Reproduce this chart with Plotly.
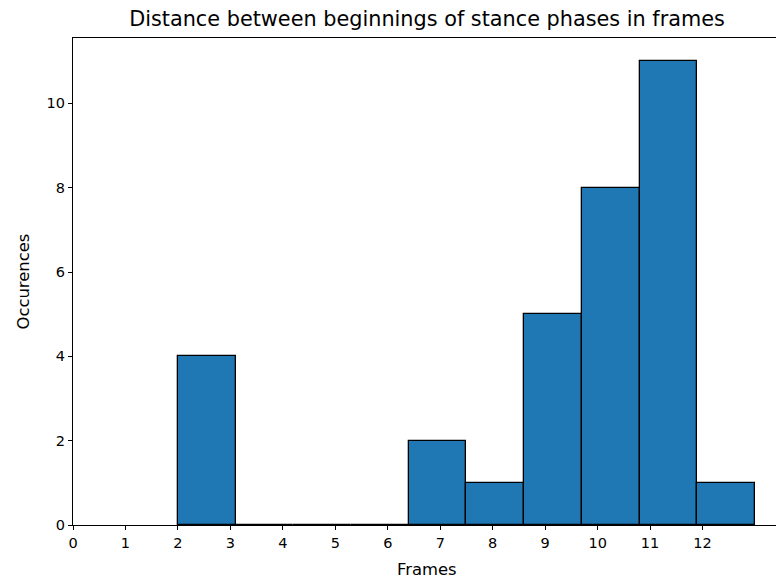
import plotly.graph_objects as go

# Histogram of stance-phase start distances (frames), 10 bins over [2, 13]
bin_edges = [2.0, 3.1, 4.2, 5.3, 6.4, 7.5, 8.6, 9.7, 10.8, 11.9, 13.0]
counts = [4, 0, 0, 0, 2, 1, 5, 8, 11, 1]
x_ticks = list(range(0, 13))
y_ticks = [0, 2, 4, 6, 8, 10]

centers = [(a + b) / 2 for a, b in zip(bin_edges[:-1], bin_edges[1:])]
widths = [b - a for a, b in zip(bin_edges[:-1], bin_edges[1:])]

font = "DejaVu Sans"
tick_size = 14.5
label_size = 16.4
title_size = 20.8

fig = go.Figure(
    go.Bar(
        x=centers,
        y=counts,
        width=widths,
        marker=dict(color="#1f77b4", line=dict(color="black", width=1.3)),
        hoverinfo="x+y",
    )
)

W, H = 776, 581
L, R, T, B = 73, 0, 38, 56

fig.update_layout(
    width=W,
    height=H,
    margin=dict(l=L, r=R, t=T, b=B, pad=0),
    plot_bgcolor="white",
    paper_bgcolor="white",
    showlegend=False,
    bargap=0,
    font=dict(family=font, size=tick_size, color="black"),
    title=dict(
        text="Distance between beginnings of stance phases in frames",
        font=dict(family=font, size=title_size, color="black"),
        x=(427 - L) / (W - L - R),
        xref="paper",
        xanchor="center",
        y=1 - 19 / H,
        yref="container",
        yanchor="middle",
    ),
    annotations=[
        dict(
            text="Frames", xref="paper", yref="paper",
            x=(427 - L) / (W - L - R), y=-(569 - (H - B)) / (H - T - B),
            xanchor="center", yanchor="middle", showarrow=False,
            font=dict(family=font, size=label_size, color="black"),
        ),
        dict(
            text="Occurences", xref="paper", yref="paper",
            x=-(L - 23) / (W - L - R), y=0.5, textangle=-90,
            xanchor="center", yanchor="middle", showarrow=False,
            font=dict(family=font, size=label_size, color="black"),
        ),
    ],
)

fig.update_xaxes(
    range=[0, 13.4],
    tickmode="array",
    tickvals=x_ticks,
    ticktext=[str(v) for v in x_ticks],
    tickfont=dict(family=font, size=tick_size, color="black"),
    ticks="outside",
    ticklen=4,
    tickwidth=1,
    tickcolor="black",
    showline=True,
    linecolor="black",
    linewidth=1.2,
    mirror=True,
    showgrid=False,
    zeroline=False,
)
fig.update_yaxes(
    range=[0, 11.55],
    tickmode="array",
    tickvals=y_ticks,
    ticktext=[str(v) for v in y_ticks],
    tickfont=dict(family=font, size=tick_size, color="black"),
    ticks="outside",
    ticklen=4,
    tickwidth=1,
    tickcolor="black",
    showline=True,
    linecolor="black",
    linewidth=1.2,
    showgrid=False,
    zeroline=False,
)

fig.write_html("out.html")
